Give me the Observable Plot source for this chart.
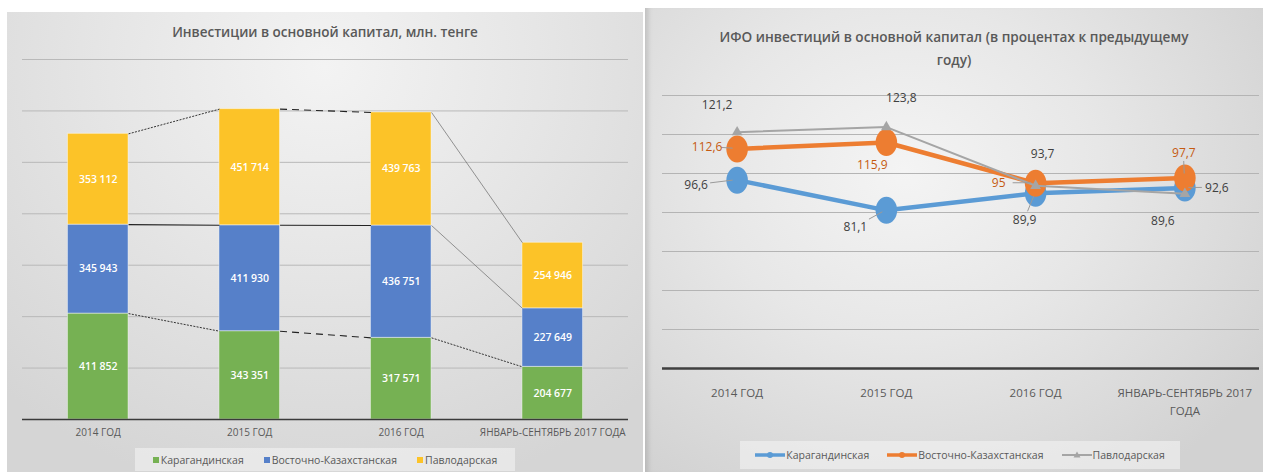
<!DOCTYPE html>
<html>
<head>
<meta charset="utf-8">
<script src="https://cdn.jsdelivr.net/npm/d3@7"></script>
<script src="https://cdn.jsdelivr.net/npm/@observablehq/plot@0.6"></script>
<style>
  html, body { margin: 0; padding: 0; background: #fff; }
  body { width: 1263px; height: 472px; position: relative; overflow: hidden; font-family: "Open Sans", "Noto Sans", sans-serif; }
  .panel { position: absolute; overflow: hidden; }
  #left { left: 7px; top: 12px; width: 636px; height: 460px;
    background: radial-gradient(ellipse 75% 95% at 50% 12%, #f3f3f3 0%, #e6e6e6 45%, #d5d5d5 100%); }
  #right { left: 645px; top: 8px; width: 618px; height: 464px;
    background: radial-gradient(ellipse 70% 80% at 42% 35%, #f4f4f4 0%, #e7e7e7 45%, #d2d2d2 100%);
    box-shadow: inset 6px 0 5px -3px rgba(0,0,0,0.13); }
  .title { position: absolute; left: 0; right: 0; text-align: center; color: #595959; font-weight: 600; }
  .plotbox { position: absolute; left: 0; }
  .legend { position: absolute; display: flex; align-items: center; justify-content: center;
    background: rgba(246,246,246,0.55); color: #595959; font-size: 10.5px; white-space: nowrap; }
  .legend .item { display: flex; align-items: center; white-space: nowrap; }
  .legend .sw { width: 6px; height: 6px; margin-right: 2px; }
</style>
</head>
<body>
<div id="left" class="panel">
  <div class="title" style="top:10px; font-size:13.5px; line-height:20px;">Инвестиции в основной капитал, млн. тенге</div>
  <div id="leftPlot" class="plotbox" style="top:30px;"></div>
  <div id="leftLegend" class="legend" style="left:128px; top:436px; width:380px; height:23px;"></div>
</div>
<div id="right" class="panel">
  <div class="title" style="top:17px; font-size:13.6px; line-height:23px;">ИФО инвестиций в основной капитал (в процентах к предыдущему<br>году)</div>
  <div id="rightPlot" class="plotbox" style="top:70px;"></div>
  <div id="rightLegend" class="legend" style="left:95px; top:433px; width:440px; height:28px; font-size:10.5px;"></div>
</div>
<script>
// ---------- DATA ----------
const categories = ["2014 ГОД", "2015 ГОД", "2016 ГОД", "ЯНВАРЬ-СЕНТЯБРЬ 2017 ГОДА"];
const seriesNames = ["Карагандинская", "Восточно-Казахстанская", "Павлодарская"];
const investKaraganda = [411852, 343351, 317571, 204677];
const investVko = [345943, 411930, 436751, 227649];
const investPavlodar = [353112, 451714, 439763, 254946];

const lineCategories = ["2014 ГОД", "2015 ГОД", "2016 ГОД", "ЯНВАРЬ-СЕНТЯБРЬ 2017\nГОДА"];
const ifoKaraganda = [96.6, 81.1, 89.9, 92.6];
const ifoVko = [112.6, 115.9, 95, 97.7];
const ifoPavlodar = [121.2, 123.8, 93.7, 89.6];

// ---------- STYLE ----------
const barColors = ["#76b153", "#5680c9", "#fcc328"];
const lineColors = ["#5b9bd5", "#ed7d31", "#a5a5a5"];
const labelColors = ["#404040", "#c55a11", "#404040"];
// label offsets in px (dx, dy) per series/point, and whether a leader line is drawn
const labelOffsets = [
  [[-41, 5], [-31, 17], [-11, 27], [32, 0]],
  [[-30, -2], [-14, 23], [-37, 0], [-1, -25]],
  [[-20, -27], [15, -29], [7, -32], [-22, 27]]
];
const leaders = [
  [true, true, true, true],
  [true, false, true, true],
  [false, false, false, false]
];
const barHalf = 0.2;

// ---------- LEFT: stacked bars ----------
const fmtThousands = v => d3.format(",")(v).replace(/,/g, " ");
const investSeries = [investKaraganda, investVko, investPavlodar];
const rects = [];
const levels = [[], [], []];
categories.forEach((c, i) => {
  let base = 0;
  investSeries.forEach((s, k) => {
    rects.push({i, k, y1: base, y2: base + s[i], value: s[i]});
    base += s[i];
    levels[k].push(base);
  });
});
const connectors = [];
levels.forEach((lv, k) => {
  for (let i = 0; i < lv.length - 1; i++) connectors.push({k, i, a: lv[i], b: lv[i + 1]});
});
function connStyle(c) {
  if (c.i === 2 && c.k > 0) return {stroke: "#7a7a7a", strokeWidth: 0.8, strokeDasharray: null};
  if (c.k === 1) return {stroke: "#222", strokeWidth: 1.1, strokeDasharray: null};
  if (c.i === 1) return {stroke: "#222", strokeWidth: 1.1, strokeDasharray: "7,5"};
  return {stroke: "#333", strokeWidth: 1, strokeDasharray: "2,1.3"};
}
const connMarks = connectors.map(c => Plot.link([c], {
  x1: d => d.i + barHalf, y1: "a", x2: d => d.i + 1 - barHalf, y2: "b", ...connStyle(c)
}));

const leftPlot = Plot.plot({
  width: 636, height: 400,
  marginTop: 17, marginBottom: 23, marginLeft: 15, marginRight: 15,
  style: {background: "transparent", fontFamily: "'Open Sans', sans-serif", overflow: "visible"},
  x: {domain: [-0.5, 3.5], axis: null, label: null},
  y: {domain: [0, 1400000], axis: null, label: null},
  marks: [
    Plot.gridY(d3.range(200000, 1400001, 200000), {stroke: "#b9b9b9", strokeOpacity: 1, strokeWidth: 1}),
    Plot.rect(rects, {x1: d => d.i - barHalf, x2: d => d.i + barHalf, y1: "y1", y2: "y2",
      fill: d => barColors[d.k], stroke: "rgba(255,255,255,0.45)", strokeWidth: 1}),
    ...connMarks,
    Plot.ruleY([0], {stroke: "#3a3a3a", strokeWidth: 1.3}),
    Plot.text(rects, {x: "i", y: d => (d.y1 + d.y2) / 2, text: d => fmtThousands(d.value),
      fill: "#fff", fontSize: 10.5, fontWeight: 600}),
    Plot.axisX([0, 1, 2, 3], {tickFormat: i => categories[i], tickSize: 0, tickPadding: 9,
      fontSize: 10, fill: "#595959", stroke: null, label: null})
  ]
});
document.getElementById("leftPlot").appendChild(leftPlot);

const ll = document.getElementById("leftLegend");
seriesNames.forEach((n, k) => {
  const it = document.createElement("div");
  it.className = "item";
  it.style.margin = "0 10px";
  it.innerHTML = `<span class="sw" style="background:${barColors[k]}"></span><span>${n}</span>`;
  ll.appendChild(it);
});

// ---------- RIGHT: lines ----------
const ifoSeries = [ifoKaraganda, ifoVko, ifoPavlodar];
const pts = ifoSeries.map((s, k) => s.map((v, i) => ({k, i, v,
  dx: labelOffsets[k][i][0], dy: labelOffsets[k][i][1], leader: leaders[k][i]})));
const fmtComma = v => String(v).replace(".", ",");

const ellipse = {
  draw(context, size) {
    const r = Math.sqrt(size / Math.PI), rx = r * 0.8, ry = r, q = 0.5523;
    context.moveTo(rx, 0);
    context.bezierCurveTo(rx, ry * q, rx * q, ry, 0, ry);
    context.bezierCurveTo(-rx * q, ry, -rx, ry * q, -rx, 0);
    context.bezierCurveTo(-rx, -ry * q, -rx * q, -ry, 0, -ry);
    context.bezierCurveTo(rx * q, -ry, rx, -ry * q, rx, 0);
    context.closePath();
  }
};

const seriesMarks = [];
pts.forEach((p, k) => {
  if (k < 2) {
    seriesMarks.push(Plot.line(p, {x: "i", y: "v", stroke: lineColors[k], strokeWidth: 4.5}));
    seriesMarks.push(Plot.dot(p, {x: "i", y: "v", r: 13.5, symbol: ellipse, fill: lineColors[k], stroke: null}));
  } else {
    seriesMarks.push(Plot.line(p, {x: "i", y: "v", stroke: lineColors[k], strokeWidth: 2}));
    seriesMarks.push(Plot.dot(p, {x: "i", y: "v", r: 4, symbol: "triangle", fill: lineColors[k], stroke: null}));
  }
});

const allPts = pts.flat();
const leaderMark = (index, scales) => {
  const g = d3.create("svg:g").attr("stroke", "#9a9a9a").attr("stroke-width", 1);
  allPts.filter(d => d.leader).forEach(d => {
    const px = scales.x(d.i), py = scales.y(d.v);
    const lx = px + d.dx, ly = py + d.dy;
    const L = Math.hypot(px - lx, py - ly), ux = (px - lx) / L, uy = (py - ly) / L;
    const gap = Math.min(Math.abs(ux) > 1e-6 ? 13 / Math.abs(ux) : 1e9, Math.abs(uy) > 1e-6 ? 7 / Math.abs(uy) : 1e9) + 1.5;
    const end = L - 4;
    if (end > gap) {
      g.append("line").attr("x1", lx + ux * gap).attr("y1", ly + uy * gap)
        .attr("x2", lx + ux * end).attr("y2", ly + uy * end);
    }
  });
  return g.node();
};

const labelMarks = allPts.map(d => Plot.text([d], {x: "i", y: "v", text: p => fmtComma(p.v),
  dx: d.dx, dy: d.dy, fill: labelColors[d.k], fontSize: 12, fontWeight: 400}));

const rightPlot = Plot.plot({
  width: 618, height: 350,
  marginTop: 17, marginBottom: 60, marginLeft: 17, marginRight: 4,
  style: {background: "transparent", fontFamily: "'Open Sans', sans-serif", overflow: "visible"},
  x: {domain: [-0.5, 3.5], axis: null, label: null},
  y: {domain: [0, 140], axis: null, label: null},
  marks: [
    Plot.gridY(d3.range(20, 141, 20), {stroke: "#b4b4b4", strokeOpacity: 1, strokeWidth: 1}),
    Plot.ruleY([0], {stroke: "#3f3f3f", strokeWidth: 2.5}),
    ...seriesMarks,
    leaderMark,
    ...labelMarks,
    Plot.axisX([0, 1, 2, 3], {tickFormat: i => lineCategories[i], tickSize: 0, tickPadding: 16,
      fontSize: 11.5, fill: "#595959", stroke: null, lineHeight: 1.55, label: null})
  ]
});
document.getElementById("rightPlot").appendChild(rightPlot);

const rl = document.getElementById("rightLegend");
seriesNames.forEach((n, k) => {
  const it = document.createElement("div");
  it.className = "item";
  it.style.margin = "0 9px";
  const marker = k < 2
    ? `<circle cx="15" cy="5" r="3" fill="${lineColors[k]}"/>`
    : `<path d="M15,1.5 L18.5,7.5 L11.5,7.5 Z" fill="${lineColors[k]}"/>`;
  it.innerHTML = `<svg width="30" height="10" style="margin-right:1px;flex:none"><line x1="0" y1="5" x2="30" y2="5" stroke="${lineColors[k]}" stroke-width="${k < 2 ? 3.5 : 2}"/>${marker}</svg><span>${n}</span>`;
  rl.appendChild(it);
});
</script>
</body>
</html>
